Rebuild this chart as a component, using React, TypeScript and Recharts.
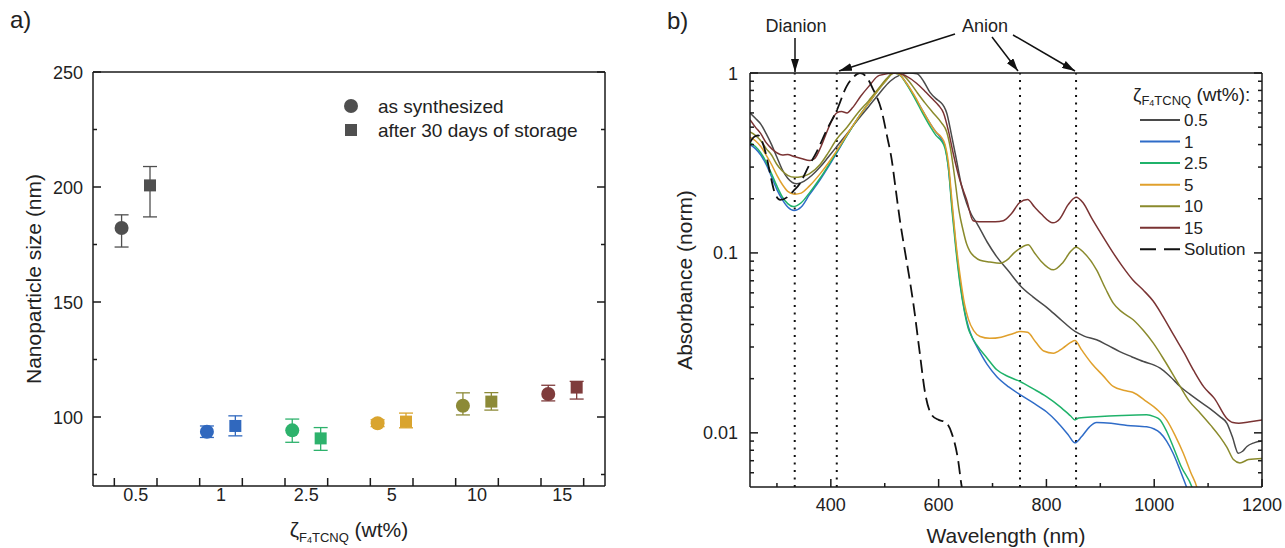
import React from "react";
import {
  ScatterChart, Scatter, ErrorBar, LineChart, Line, XAxis, YAxis, ReferenceLine,
} from "recharts";

const FONT = "'Liberation Sans', Arial, Helvetica, sans-serif";
const INK = "#1a1a1a";
const TXT = "#222";

// ---- a) nanoparticle size ----
const concLabels = ["0.5", "1", "2.5", "5", "10", "15"];
const dotColors = ["#4f4f4f", "#3068be", "#2db26c", "#d9a42e", "#8c8a37", "#7f3c3c"];
const sizeSynth = [182.2, 93.6, 94.2, 97.3, 104.9, 110.0];
const errSynthLo = [8.3, 2.5, 5.2, 1.5, 4.0, 3.0];
const errSynthHi = [5.7, 2.5, 4.9, 1.5, 5.6, 3.8];
const sizeStored = [200.7, 96.1, 90.7, 98.0, 106.7, 112.8];
const errStoredLo = [13.7, 4.3, 5.2, 2.7, 3.7, 5.0];
const errStoredHi = [8.2, 4.4, 4.7, 3.7, 3.9, 2.7];
const sizeTicksY = [75, 100, 125, 150, 175, 200, 225, 250];
const sizeTicksX = [-0.25, 0, 0.25, 0.75, 1, 1.25, 1.75, 2, 2.25, 2.75, 3, 3.25, 3.75, 4, 4.25, 4.75, 5, 5.25];
const sizeTicksTop = [-0.25, 0.25, 0.75, 1.25, 1.75, 2.25, 2.75, 3.25, 3.75, 4.25, 4.75, 5.25];

// ---- b) absorbance spectra ----
const wl05 = [250, 260, 270, 280, 290, 300, 310, 320, 337, 350, 365, 380, 395, 411, 430, 450, 470, 490, 510, 530, 545, 560, 572, 584, 595, 603, 610, 615, 624, 633, 642, 652, 661, 671, 690, 708, 730, 751, 775, 800, 825, 853, 870, 893, 915, 936, 958, 980, 1000, 1011, 1030, 1048, 1066, 1085, 1104, 1122, 1135, 1145, 1156, 1164, 1172, 1185, 1200];
const ab05 = [0.6, 0.56, 0.52, 0.46, 0.4, 0.34, 0.29, 0.26, 0.242, 0.25, 0.27, 0.3, 0.34, 0.39, 0.46, 0.55, 0.65, 0.77, 0.9, 0.98, 1.0, 0.99, 0.9, 0.78, 0.72, 0.69, 0.65, 0.6, 0.45, 0.33, 0.24, 0.189, 0.163, 0.146, 0.115, 0.095, 0.079, 0.066, 0.057, 0.05, 0.043, 0.0366, 0.0345, 0.0329, 0.0305, 0.0283, 0.0265, 0.0249, 0.0238, 0.0229, 0.0205, 0.0181, 0.0164, 0.0149, 0.0136, 0.0123, 0.0113, 0.0095, 0.0077, 0.0079, 0.0084, 0.0088, 0.009];
const wl1 = [250, 260, 270, 280, 290, 300, 310, 320, 332, 345, 360, 380, 395, 411, 430, 450, 470, 490, 505, 515, 525, 540, 555, 570, 585, 595, 605, 612, 618, 625, 632, 640, 648, 655, 662, 670, 690, 708, 730, 751, 775, 800, 820, 840, 853, 865, 880, 893, 920, 950, 986, 1000, 1011, 1023, 1035, 1048, 1060, 1066];
const ab1 = [0.4, 0.38, 0.35, 0.31, 0.265, 0.225, 0.198, 0.18, 0.172, 0.18, 0.21, 0.255, 0.3, 0.36, 0.45, 0.56, 0.68, 0.82, 0.93, 1.0, 0.99, 0.88, 0.74, 0.62, 0.52, 0.47, 0.43, 0.39, 0.3, 0.18, 0.11, 0.068, 0.048, 0.039, 0.034, 0.0305, 0.024, 0.0205, 0.018, 0.0163, 0.0147, 0.0131, 0.0115, 0.0098, 0.0088, 0.0095, 0.0108, 0.0114, 0.0113, 0.011, 0.0108, 0.0105, 0.01, 0.009, 0.0077, 0.0062, 0.005, 0.0045];
const wl25 = [250, 260, 270, 280, 290, 300, 310, 320, 330, 345, 360, 380, 395, 411, 430, 450, 470, 490, 505, 515, 525, 540, 555, 570, 585, 595, 605, 612, 618, 625, 632, 640, 648, 655, 662, 670, 690, 708, 730, 751, 775, 800, 825, 845, 853, 860, 893, 940, 986, 1000, 1011, 1023, 1035, 1050, 1070, 1075];
const ab25 = [0.41, 0.39, 0.36, 0.32, 0.275, 0.235, 0.205, 0.188, 0.181, 0.19, 0.215, 0.26, 0.305, 0.365, 0.45, 0.56, 0.68, 0.82, 0.93, 1.0, 0.99, 0.87, 0.73, 0.6, 0.5, 0.45, 0.42, 0.38, 0.3, 0.17, 0.105, 0.066, 0.047, 0.038, 0.034, 0.031, 0.026, 0.0224, 0.0205, 0.0193, 0.0176, 0.0159, 0.014, 0.0124, 0.0118, 0.0121, 0.0123, 0.0125, 0.0126, 0.0123, 0.0118, 0.0102, 0.0084, 0.0065, 0.005, 0.0045];
const wl5 = [250, 260, 270, 280, 290, 300, 310, 320, 333, 345, 360, 380, 395, 411, 430, 450, 470, 490, 505, 515, 525, 540, 555, 570, 585, 595, 605, 612, 618, 625, 632, 640, 648, 655, 665, 677, 695, 716, 740, 751, 765, 780, 795, 813, 830, 845, 853, 865, 884, 905, 924, 945, 960, 986, 1005, 1023, 1040, 1054, 1068, 1079, 1083];
const ab5 = [0.44, 0.42, 0.39, 0.35, 0.31, 0.27, 0.24, 0.22, 0.212, 0.215, 0.235, 0.275, 0.315, 0.37, 0.455, 0.56, 0.68, 0.82, 0.93, 1.0, 0.99, 0.88, 0.75, 0.62, 0.52, 0.47, 0.44, 0.4, 0.32, 0.19, 0.115, 0.074, 0.052, 0.043, 0.037, 0.0343, 0.0335, 0.034, 0.0358, 0.0366, 0.0362, 0.032, 0.0285, 0.0277, 0.0295, 0.0318, 0.0326, 0.029, 0.0243, 0.0208, 0.0181, 0.0172, 0.0168, 0.0149, 0.0135, 0.0118, 0.0095, 0.0077, 0.006, 0.005, 0.0045];
const wl10 = [250, 260, 270, 280, 290, 300, 310, 320, 333, 345, 360, 380, 395, 411, 430, 450, 470, 490, 505, 518, 530, 545, 560, 575, 590, 605, 615, 622, 630, 638, 645, 652, 658, 667, 677, 695, 714, 730, 740, 751, 766, 778, 790, 813, 830, 845, 855, 870, 893, 910, 924, 940, 961, 980, 998, 1020, 1048, 1065, 1085, 1105, 1122, 1135, 1147, 1159, 1175, 1200];
const ab10 = [0.47, 0.45, 0.42, 0.38, 0.35, 0.31, 0.285, 0.27, 0.263, 0.265, 0.275, 0.31, 0.36, 0.43, 0.5, 0.6, 0.7, 0.83, 0.94, 1.0, 0.99, 0.9, 0.78, 0.68, 0.6, 0.53, 0.47, 0.38, 0.26, 0.17, 0.135, 0.112, 0.102, 0.095, 0.091, 0.089, 0.0877, 0.093, 0.1, 0.106, 0.111, 0.1, 0.09, 0.0805, 0.088, 0.102, 0.1076, 0.1, 0.0805, 0.063, 0.0526, 0.047, 0.0425, 0.037, 0.0316, 0.025, 0.0181, 0.015, 0.0129, 0.011, 0.0095, 0.0083, 0.0071, 0.0068, 0.0071, 0.0072];
const wl15 = [250, 260, 270, 280, 290, 300, 310, 320, 330, 345, 361, 370, 380, 390, 400, 411, 420, 430, 440, 455, 470, 490, 522, 540, 559, 575, 590, 600, 609, 618, 627, 640, 652, 664, 675, 690, 705, 720, 735, 750, 765, 778, 790, 812, 825, 840, 855, 868, 884, 900, 922, 940, 960, 980, 998, 1015, 1036, 1055, 1074, 1092, 1112, 1134, 1146, 1157, 1175, 1200];
const ab15 = [0.55, 0.5, 0.46, 0.41, 0.38, 0.36, 0.35, 0.352, 0.345, 0.335, 0.326, 0.335, 0.38, 0.45, 0.53, 0.6, 0.61, 0.6, 0.64, 0.74, 0.84, 0.97, 1.0, 0.96, 0.877, 0.79, 0.71, 0.66, 0.6, 0.48, 0.358, 0.25, 0.197, 0.151, 0.149, 0.149, 0.149, 0.151, 0.165, 0.19, 0.198, 0.18, 0.165, 0.147, 0.155, 0.185, 0.204, 0.19, 0.156, 0.13, 0.102, 0.085, 0.071, 0.062, 0.054, 0.045, 0.035, 0.028, 0.022, 0.018, 0.0155, 0.0121, 0.0114, 0.0113, 0.0115, 0.0118];
const wlSol = [250, 257, 265, 272, 280, 288, 295, 306, 320, 330, 343, 358, 374, 392, 411, 429, 442, 454, 466, 479, 494, 504, 513, 520, 528, 538, 545, 553, 565, 575, 587, 600, 612, 624, 636, 643, 647];
const abSol = [0.41, 0.44, 0.45, 0.42, 0.35, 0.27, 0.22, 0.197, 0.205, 0.22, 0.244, 0.3, 0.366, 0.48, 0.62, 0.84, 0.95, 1.0, 0.95, 0.805, 0.62, 0.45, 0.329, 0.23, 0.153, 0.1, 0.075, 0.0526, 0.0278, 0.0166, 0.0126, 0.0118, 0.0115, 0.01, 0.0071, 0.005, 0.0045];

const wlTicks = [300, 400, 500, 600, 700, 800, 900, 1000, 1100, 1200];
const absTicks = [0.006, 0.007, 0.008, 0.009, 0.01, 0.02, 0.03, 0.04, 0.05, 0.06, 0.07, 0.08, 0.09, 0.1, 0.2, 0.3, 0.4, 0.5, 0.6, 0.7, 0.8, 0.9, 1];
const absLabels: Record<string, string> = { "0.01": "0.01", "0.1": "0.1", "1": "1" };
const markerLines = [333, 411, 751, 855];

const toPts = (xs: number[], ys: number[]) => xs.map((x, i) => ({ x, y: ys[i] }));
const spectra = [
  { name: "0.5", color: "#4a4a4a", pts: toPts(wl05, ab05), dash: undefined },
  { name: "1", color: "#2f6cc8", pts: toPts(wl1, ab1), dash: undefined },
  { name: "2.5", color: "#1fb26a", pts: toPts(wl25, ab25), dash: undefined },
  { name: "5", color: "#e0a02c", pts: toPts(wl5, ab5), dash: undefined },
  { name: "10", color: "#8a8a2c", pts: toPts(wl10, ab10), dash: undefined },
  { name: "15", color: "#7a3333", pts: toPts(wl15, ab15), dash: undefined },
  { name: "Solution", color: "#111", pts: toPts(wlSol, abSol), dash: "13 6" },
];

type Side = "left" | "right" | "top" | "bottom";

function tickRenderer(side: Side, lenOf: (v: number) => number, labelOf?: (v: number) => string | null, gap = 10, dy = 6.5) {
  return (p: any) => {
    const v = p.payload.value;
    const x = Number(p.x);
    const y = Number(p.y);
    const len = lenOf(v);
    const lab = labelOf ? labelOf(v) : null;
    let ln = null;
    if (len > 0) {
      if (side === "left") ln = <line x1={x} y1={y} x2={x + len} y2={y} />;
      if (side === "right") ln = <line x1={x} y1={y} x2={x - len} y2={y} />;
      if (side === "bottom") ln = <line x1={x} y1={y} x2={x} y2={y - len} />;
      if (side === "top") ln = <line x1={x} y1={y} x2={x} y2={y + len} />;
    }
    return (
      <g>
        {ln && <g stroke={INK} strokeWidth={1.5}>{ln}</g>}
        {lab && side === "left" && (
          <text x={x - gap} y={y + dy} textAnchor="end" fontSize={18} fontFamily={FONT} fill={TXT}>{lab}</text>
        )}
        {lab && side === "bottom" && (
          <text x={x} y={y + gap} textAnchor="middle" fontSize={18} fontFamily={FONT} fill={TXT}>{lab}</text>
        )}
      </g>
    );
  };
}

const axisCommon = { tickSize: 0, tickMargin: 0, tickLine: false, interval: 0 as const, axisLine: { stroke: INK, strokeWidth: 1.5 } };
const noShape = () => <g />;
const blank = () => <g />;

// two stacked charts with identical axes: the lower one holds axes + error bars,
// the upper (transparent) one the markers, so markers cover the bars
function SizeChart({ layer }: { layer: "bars" | "marks" }) {
  const show = layer === "bars";
  const sizeMajor = (v: number) => (v % 50 === 0 ? 8 : 4);
  const isCat = (v: number) => Number.isInteger(v);
  const ax = show ? axisCommon : { ...axisCommon, axisLine: false };
  const synth = concLabels.map((c, i) => ({ x: i - 0.165, y: sizeSynth[i], err: [errSynthLo[i], errSynthHi[i]] }));
  const stored = concLabels.map((c, i) => ({ x: i + 0.168, y: sizeStored[i], err: [errStoredLo[i], errStoredHi[i]] }));
  return (
    <ScatterChart width={640} height={548} margin={{ top: 62, right: 25, bottom: 42, left: 53 }}>
      <XAxis type="number" dataKey="x" domain={[-0.5, 5.5]} allowDataOverflow ticks={sizeTicksX} height={20} {...ax}
        tick={show ? tickRenderer("bottom", (v) => (isCat(v) ? 0 : 8), (v) => (isCat(v) ? concLabels[v] : null), 14.5) : blank} />
      <XAxis xAxisId="top" orientation="top" type="number" domain={[-0.5, 5.5]} allowDataOverflow ticks={sizeTicksTop} height={10} {...ax}
        tick={show ? tickRenderer("top", () => 8) : blank} />
      <YAxis type="number" dataKey="y" domain={[70, 250]} allowDataOverflow ticks={sizeTicksY} width={40} {...ax}
        tick={show ? tickRenderer("left", sizeMajor, (v) => (v % 50 === 0 ? String(v) : null), 10, 6.5) : blank} />
      <YAxis yAxisId="right" orientation="right" type="number" domain={[70, 250]} allowDataOverflow ticks={sizeTicksY} width={10} {...ax}
        tick={show ? tickRenderer("right", sizeMajor) : blank} />
      {show && concLabels.map((c, i) => (
        <Scatter key={"es" + c} data={[synth[i], stored[i]]} isAnimationActive={false} shape={noShape}>
          <ErrorBar dataKey="err" direction="y" width={7} stroke={dotColors[i]} strokeWidth={1.3} isAnimationActive={false} />
        </Scatter>
      ))}
      {!show && concLabels.map((c, i) => (
        <Scatter key={"s" + c} name={c} data={[synth[i]]} isAnimationActive={false}
          shape={(p: any) => <circle cx={p.cx} cy={p.cy} r={7} fill={dotColors[i]} />} />
      ))}
      {!show && concLabels.map((c, i) => (
        <Scatter key={"q" + c} name={c} data={[stored[i]]} isAnimationActive={false}
          shape={(p: any) => <rect x={p.cx - 6} y={p.cy - 6} width={12} height={12} fill={dotColors[i]} />} />
      ))}
    </ScatterChart>
  );
}

function SpectraChart() {
  const wlLen = (v: number) => (v % 200 === 0 ? 8 : 4);
  const absLen = (v: number) => (absLabels[String(v)] ? 8 : 4);
  return (
    <LineChart width={645} height={548} margin={{ top: 63, right: 13, bottom: 41, left: 70 }}>
      <XAxis type="number" dataKey="x" domain={[250, 1200]} allowDataOverflow ticks={wlTicks} height={20} {...axisCommon}
        tick={tickRenderer("bottom", wlLen, (v) => (v % 200 === 0 ? String(v) : null), 24)} />
      <XAxis xAxisId="top" orientation="top" type="number" domain={[250, 1200]} allowDataOverflow ticks={wlTicks} height={10} {...axisCommon}
        tick={tickRenderer("top", wlLen)} />
      <YAxis type="number" scale="log" domain={[0.005, 1]} allowDataOverflow ticks={absTicks} width={40} {...axisCommon}
        tick={tickRenderer("left", absLen, (v) => absLabels[String(v)] ?? null, 12, 6.5)} />
      <YAxis yAxisId="right" orientation="right" type="number" scale="log" domain={[0.005, 1]} allowDataOverflow ticks={absTicks} width={10} {...axisCommon}
        tick={tickRenderer("right", absLen)} />
      {markerLines.map((m) => (
        <ReferenceLine key={m} x={m} stroke="#111" strokeWidth={2} strokeDasharray="2 5.5" />
      ))}
      {spectra.map((s) => (
        <Line key={s.name} name={s.name} data={s.pts} dataKey="y" type="monotone" stroke={s.color}
          strokeWidth={s.dash ? 1.8 : 1.5} strokeDasharray={s.dash} dot={false} activeDot={false} isAnimationActive={false} />
      ))}
    </LineChart>
  );
}

function Overlay() {
  const sub = { fontSize: 13 };
  return (
    <svg width={1285} height={548} style={{ position: "absolute", left: 0, top: 0, pointerEvents: "none" }} fontFamily={FONT}>
      <defs>
        <marker id="ah" markerWidth={13} markerHeight={8} refX={13} refY={4} orient="auto" markerUnits="userSpaceOnUse">
          <path d="M0,0 L13,4 L0,8 z" fill="#111" />
        </marker>
      </defs>
      <text x={10} y={28} fontSize={24} fill={TXT}>a)</text>
      <text x={667} y={29} fontSize={24} fill={TXT}>b)</text>

      {/* axis titles */}
      <text transform="translate(41,279) rotate(-90)" textAnchor="middle" fontSize={21} fill={TXT}>Nanoparticle size (nm)</text>
      <text x={349} y={537} textAnchor="middle" fontSize={21} fill={TXT}>
        ζ<tspan {...sub} dy={5}>F</tspan><tspan fontSize={9} dy={1}>4</tspan><tspan {...sub} dy={-1}>TCNQ</tspan><tspan dy={-5}> (wt%)</tspan>
      </text>
      <text transform="translate(692,280) rotate(-90)" textAnchor="middle" fontSize={21} fill={TXT}>Absorbance (norm)</text>
      <text x={1006} y={543} textAnchor="middle" fontSize={21} fill={TXT}>Wavelength (nm)</text>

      {/* a) legend */}
      <circle cx={351} cy={106} r={7} fill={dotColors[0]} />
      <text x={378} y={112.5} fontSize={19} fill={TXT}>as synthesized</text>
      <rect x={345} y={124} width={12} height={12} fill={dotColors[0]} />
      <text x={378} y={136.5} fontSize={19} fill={TXT}>after 30 days of storage</text>

      {/* b) annotations */}
      <text x={796} y={32} textAnchor="middle" fontSize={18} fill={TXT}>Dianion</text>
      <line x1={795} y1={38} x2={795} y2={72} stroke="#111" strokeWidth={1.5} markerEnd="url(#ah)" />
      <text x={985} y={32} textAnchor="middle" fontSize={18} fill={TXT}>Anion</text>
      <line x1={955} y1={34} x2={839} y2={71} stroke="#111" strokeWidth={1.5} markerEnd="url(#ah)" />
      <line x1={992} y1={37} x2={1018} y2={71} stroke="#111" strokeWidth={1.5} markerEnd="url(#ah)" />
      <line x1={1013} y1={35} x2={1075} y2={71} stroke="#111" strokeWidth={1.5} markerEnd="url(#ah)" />

      {/* b) legend */}
      <text x={1133} y={101} fontSize={19} fill={TXT}>
        ζ<tspan fontSize={13} dy={4}>F</tspan><tspan fontSize={9} dy={1}>4</tspan><tspan fontSize={13} dy={-1}>TCNQ</tspan><tspan dy={-4}> (wt%):</tspan>
      </text>
      {spectra.map((s, i) => {
        const cy = 120 + i * 21.55;
        return (
          <g key={s.name}>
            <line x1={1140} y1={cy} x2={1180} y2={cy} stroke={s.color} strokeWidth={2} strokeDasharray={s.dash ? "16 8" : undefined} />
            <text x={1184} y={cy + 6} fontSize={17} fill={TXT}>{s.name}</text>
          </g>
        );
      })}
    </svg>
  );
}

export default function App() {
  return (
    <div style={{ position: "fixed", left: 0, top: 0, width: 1285, height: 548, background: "#fff", fontFamily: FONT }}>
      <div style={{ position: "absolute", left: 0, top: 0 }}>
        <SizeChart layer="bars" />
      </div>
      <div style={{ position: "absolute", left: 0, top: 0 }}>
        <SizeChart layer="marks" />
      </div>
      <div style={{ position: "absolute", left: 640, top: 0 }}>
        <SpectraChart />
      </div>
      <Overlay />
    </div>
  );
}
